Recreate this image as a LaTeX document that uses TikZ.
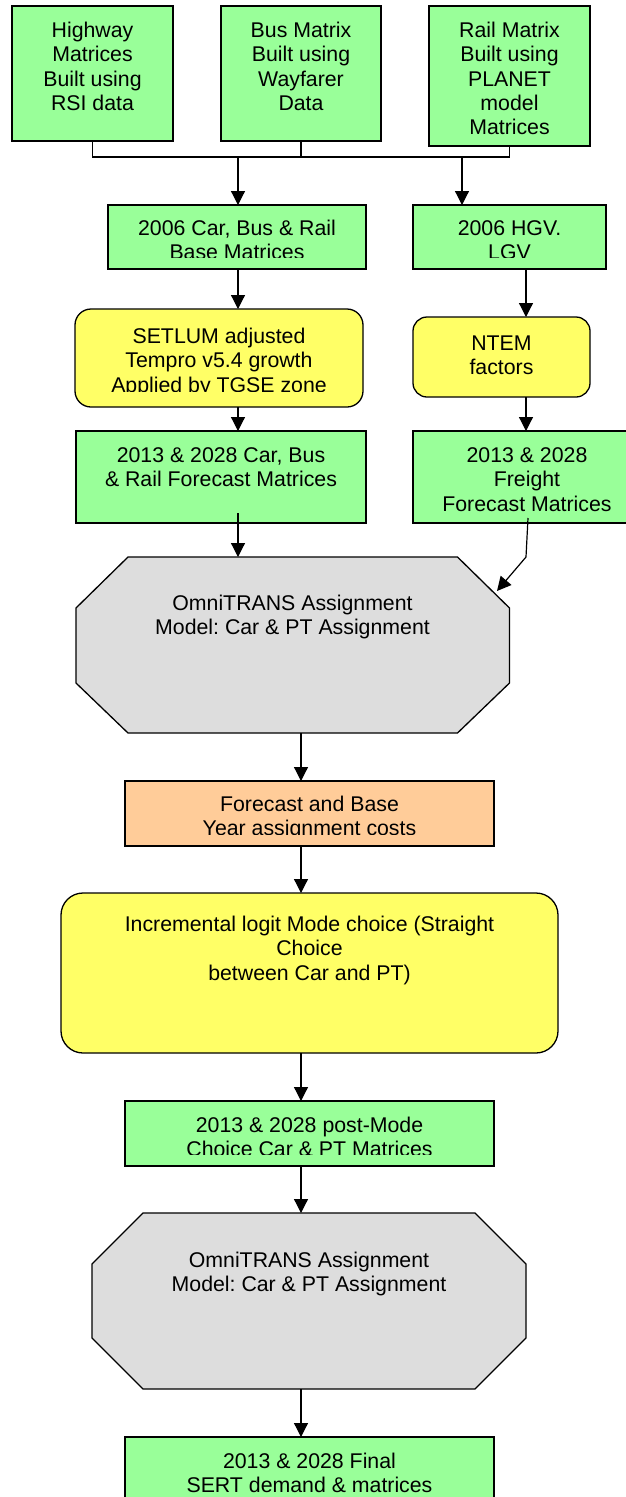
\documentclass[tikz,border=0pt]{standalone}
\usepackage{fontspec}
\setmainfont{Liberation Sans}
\usetikzlibrary{arrows.meta,calc}
\frenchspacing

\definecolor{boxgreen}{RGB}{153,255,153}
\definecolor{boxyellow}{RGB}{255,255,102}
\definecolor{boxorange}{RGB}{255,204,153}
\definecolor{boxgrey}{RGB}{221,221,221}

\begin{document}
\begin{tikzpicture}[x=1pt,y=-1pt,
  every node/.style={inner sep=0pt, outer sep=0pt},
  shapebox/.style={draw=black, line width=1.3pt, rectangle},
  greenbox/.style={shapebox, fill=boxgreen},
  yellowbox/.style={shapebox, fill=boxyellow},
  orangebox/.style={shapebox, fill=boxorange},
  octframe/.style={rectangle, draw=none},
  octline/.style={draw=black, line width=1.3pt, fill=boxgrey},
  % texts are placed by the baseline of their last line
  txt/.style={anchor=base, align=center, font=\fontsize{21.3}{24.3}\selectfont},
  link/.style={line width=1.2pt},
  arr/.style={line width=1.2pt, -{Triangle[length=14pt,width=14pt]}},
]
\useasboundingbox (0,0) rectangle (626,1497);
\clip (0,0) rectangle (626,1497);

% ---------- source matrices ----------
\node[greenbox, minimum width=161pt, minimum height=135pt] (hw)   at (92.5,73.5) {};
\node[greenbox, minimum width=160pt, minimum height=135pt] (bus)  at (301,73.5) {};
\node[greenbox, minimum width=161pt, minimum height=140pt] (rail) at (509.5,76) {};

% ---------- base year ----------
\node[greenbox, minimum width=258pt, minimum height=64pt] (base) at (237,237) {};
\node[greenbox, minimum width=193pt, minimum height=64pt] (hgv)  at (509.5,237) {};

% ---------- growth ----------
\node[yellowbox, rounded corners=16pt, minimum width=288pt, minimum height=98pt] (setlum) at (219,358) {};
\node[yellowbox, rounded corners=14pt, minimum width=177pt, minimum height=80pt] (ntem)   at (501.5,357) {};

% ---------- forecast matrices ----------
\node[greenbox, minimum width=290pt, minimum height=92pt] (fcar)    at (221,477) {};
\node[greenbox, minimum width=228pt, minimum height=92pt] (freight) at (527,477) {};

% ---------- first assignment ----------
\node[octframe, minimum width=433.5pt, minimum height=176pt] (oct1) at (292.75,645) {};
\draw[octline] ([xshift=52pt]oct1.north west) -- ([xshift=-52pt]oct1.north east)
  -- ([yshift=-51pt]oct1.north east) -- ([yshift=50pt]oct1.south east)
  -- ([xshift=-52pt]oct1.south east) -- ([xshift=52pt]oct1.south west)
  -- ([yshift=50pt]oct1.south west) -- ([yshift=-51pt]oct1.north west) -- cycle;

\node[orangebox, minimum width=369pt, minimum height=65pt] (cost) at (309.5,813.5) {};

% ---------- mode choice ----------
\node[yellowbox, rounded corners=22pt, minimum width=497pt, minimum height=160pt] (incr) at (309.5,973) {};
\node[greenbox, minimum width=369pt, minimum height=65pt] (post) at (309.5,1133.5) {};

% ---------- final assignment ----------
\node[octframe, minimum width=434pt, minimum height=176pt] (oct2) at (309,1301) {};
\draw[octline] ([xshift=51pt]oct2.north west) -- ([xshift=-51pt]oct2.north east)
  -- ([yshift=-51pt]oct2.north east) -- ([yshift=51pt]oct2.south east)
  -- ([xshift=-51pt]oct2.south east) -- ([xshift=51pt]oct2.south west)
  -- ([yshift=51pt]oct2.south west) -- ([yshift=-51pt]oct2.north west) -- cycle;

\node[greenbox, minimum width=369pt, minimum height=65pt] (final) at (309.5,1469.5) {};

% ---------- texts ----------
\node[txt] (thw)   at (92.5,110.4) {Highway\\Matrices\\Built using\\RSI data};
\node[txt] (tbus)  at (301,110.4) {Bus Matrix\\Built using\\Wayfarer\\Data};
\node[txt] (trail) at (509.5,134.7) {Rail Matrix\\Built using\\PLANET\\model\\Matrices};

\begin{scope}
  \clip (108,205) rectangle (366,257);
  \node[txt] (tbase) at (237,259.8) {2006 Car, Bus \& Rail\\Base Matrices};
\end{scope}
\begin{scope}
  \clip (413,205) rectangle (606,257);
  \node[txt] (thgv) at (509.5,259.8) {2006 HGV.\\LGV};
\end{scope}
\begin{scope}
  \clip (75,309) rectangle (363,391);
  \node[txt] (tsetlum) at (219,392.1) {SETLUM adjusted\\Tempro v5.4 growth\\Applied by TGSE zone};
\end{scope}
\node[txt] (tntem) at (501.5,374.8) {NTEM\\factors};

\node[txt] (tfcar)    at (221,486.8) {2013 \& 2028 Car, Bus\\\& Rail Forecast Matrices};
\node[txt] (tfreight) at (527,511.1) {2013 \& 2028\\Freight\\Forecast Matrices};

\node[txt] (toct1) at (292.5,634.8) {OmniTRANS Assignment\\Model: Car \& PT Assignment};

\begin{scope}
  \clip (125,781) rectangle (494,834.5);
  \node[txt] (tcost) at (309.5,835.8) {Forecast and Base\\Year assignment costs};
\end{scope}

\node[txt] (tincr) at (309.5,980.1) {Incremental logit Mode choice (Straight\\Choice\\between Car and PT)};

\begin{scope}
  \clip (125,1101) rectangle (494,1154.5);
  \node[txt] (tpost) at (309.5,1156.8) {2013 \& 2028 post-Mode\\Choice Car \& PT Matrices};
\end{scope}

\node[txt] (toct2) at (309,1291.8) {OmniTRANS Assignment\\Model: Car \& PT Assignment};
\node[txt] (tfinal) at (309.5,1492.8) {2013 \& 2028 Final\\SERT demand \& matrices};

% ---------- connectors ----------
\coordinate (bar)  at (0,157);
\coordinate (lcol) at (238,0);
\coordinate (hcol) at (462,0);
\coordinate (rcol) at (526,0);
\coordinate (spine) at (301,0);

\draw[link] (hw.south) -- (hw.south |- bar) -- (rail.south |- bar) -- (rail.south);
\draw[link] (bus.south) -- (bus.south |- bar);
\draw[arr] (lcol |- bar) -- (base.north -| lcol);
\draw[arr] (hcol |- bar) -- (hgv.north -| hcol);

\draw[arr] (base.south -| lcol) -- (setlum.north -| lcol);
\draw[arr] (setlum.south -| lcol) -- (fcar.north -| lcol);
\draw[arr] (hgv.south -| rcol) -- (ntem.north -| rcol);
\draw[arr] (ntem.south -| rcol) -- (freight.north -| rcol);

\coordinate (fcarout) at (238,513);
\draw[arr] (fcarout) -- (oct1.north -| fcarout);

\coordinate (frout)  at (528,518);
\coordinate (frbend) at (526,557);
\coordinate (frtip)  at (497,591);
\draw[arr] (frout) -- (frbend) -- (frtip);

\draw[arr] (oct1.south -| spine) -- (cost.north -| spine);
\draw[arr] (cost.south -| spine) -- (incr.north -| spine);
\draw[arr] (incr.south -| spine) -- (post.north -| spine);
\draw[arr] (post.south -| spine) -- (oct2.north -| spine);
\draw[arr] (oct2.south -| spine) -- (final.north -| spine);
\end{tikzpicture}
\end{document}
